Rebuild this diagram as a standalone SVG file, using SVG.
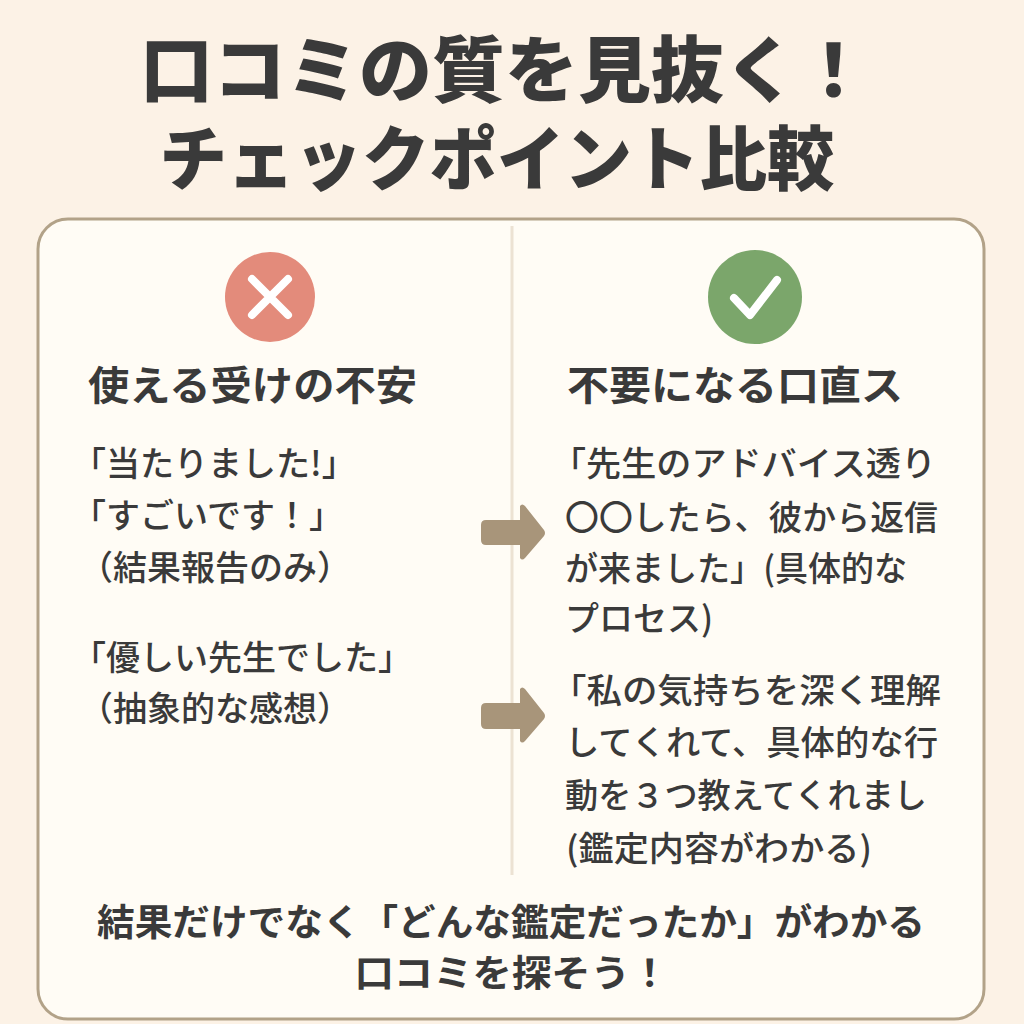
<svg xmlns="http://www.w3.org/2000/svg" width="1024" height="1024" viewBox="0 0 1024 1024">
<defs>
<style>
text{font-family:"Noto Sans CJK JP","Noto Sans CJK SC",sans-serif;fill:#3a3a3a}
.title{font-weight:900;text-anchor:middle}
.head{font-size:40px;font-weight:700}
.body{font-size:34px;font-weight:500}
.foot{font-size:37px;font-weight:700;text-anchor:middle}
.arrow{fill:#a8957a}
</style>
</defs>
<rect x="0" y="0" width="1024" height="1024" fill="#fcf2e6"/>
<g id="title">
<text class="title" x="505" y="96" font-size="72" textLength="730" lengthAdjust="spacingAndGlyphs">口コミの質を見抜く！</text>
<text class="title" x="497" y="185" font-size="70" textLength="675" lengthAdjust="spacingAndGlyphs">チェックポイント比較</text>
</g>
<g id="card">
<rect x="38" y="219" width="946" height="800" rx="30" fill="#fffcf5" stroke="#b2a288" stroke-width="3"/>
<line x1="512" y1="226" x2="512" y2="875" stroke="#ece2d3" stroke-width="3"/>
</g>
<g id="bad-icon">
<circle cx="270" cy="297" r="45" fill="#e38b7b"/>
<path d="M252 279 L288 315 M288 279 L252 315" stroke="#fff" stroke-width="8" stroke-linecap="round" fill="none"/>
</g>
<g id="good-icon">
<circle cx="755" cy="297" r="47" fill="#7ba66b"/>
<path d="M734 298 L750 315 L777 280" stroke="#fff" stroke-width="8" stroke-linecap="round" stroke-linejoin="round" fill="none"/>
</g>
<g id="bad-column">
<text class="head" x="88" y="400" textLength="329" lengthAdjust="spacingAndGlyphs">使える受けの不安</text>
<text class="body" x="72" y="476">「当たりました!」</text>
<text class="body" x="72" y="528">「すごいです！」</text>
<text class="body" x="79" y="580">（結果報告のみ）</text>
<text class="body" x="72" y="670">「優しい先生でした」</text>
<text class="body" x="79" y="721">（抽象的な感想）</text>
</g>
<g id="good-column">
<text class="head" x="567" y="400" textLength="336" lengthAdjust="spacingAndGlyphs">不要になる口直ス</text>
<text class="body" x="551" y="476" textLength="385" lengthAdjust="spacingAndGlyphs">「先生のアドバイス透り</text>
<text class="body" x="565" y="530" textLength="373" lengthAdjust="spacingAndGlyphs">〇〇したら、彼から返信</text>
<text class="body" x="565" y="581" textLength="342" lengthAdjust="spacingAndGlyphs">が来ました」(具体的な</text>
<text class="body" x="565" y="631">プロセス)</text>
<text class="body" x="551" y="703" textLength="390" lengthAdjust="spacingAndGlyphs">「私の気持ちを深く理解</text>
<text class="body" x="565" y="755" textLength="373" lengthAdjust="spacingAndGlyphs">してくれて、具体的な行</text>
<text class="body" x="565" y="808" textLength="362" lengthAdjust="spacingAndGlyphs">動を３つ教えてくれまし</text>
<text class="body" x="566" y="861" textLength="306" lengthAdjust="spacingAndGlyphs">(鑑定内容がわかる)</text>
</g>
<g id="connectors">
<path class="arrow" d="M486 520 L520 520 L520 506 Q522 503 525 506 L544 530 Q546 533 544 536 L525 558 Q522 561 520 558 L520 545 L486 545 Q481 545 481 540 L481 525 Q481 520 486 520 Z"/>
<path class="arrow" d="M486 703 L520 703 L520 689 Q522 686 525 689 L544 713 Q546 716 544 719 L525 741 Q522 744 520 741 L520 729 L486 729 Q481 729 481 724 L481 708 Q481 703 486 703 Z"/>
</g>
<g id="footer">
<text class="foot" x="511" y="936" textLength="828" lengthAdjust="spacingAndGlyphs">結果だけでなく「どんな鑑定だったか」がわかる</text>
<text class="foot" x="512" y="987" textLength="315" lengthAdjust="spacingAndGlyphs">口コミを探そう！</text>
</g>
</svg>
